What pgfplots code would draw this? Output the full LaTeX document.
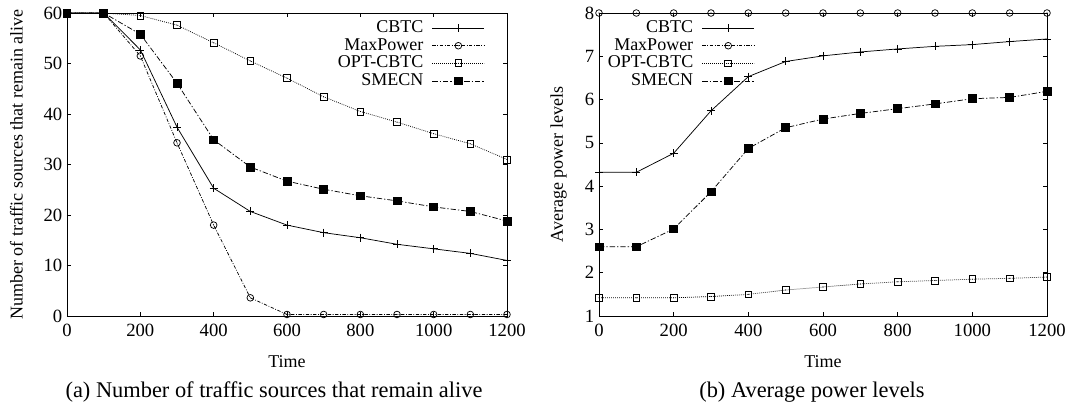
\documentclass[border=0pt]{standalone}
\usepackage{fontspec}
\setmainfont{Liberation Serif}
\usepackage{pgfplots}
\pgfplotsset{compat=1.18}

% gnuplot-like marks: open circle / open square with a dot in the middle
\pgfdeclareplotmark{circdot}{%
  \pgfpathcircle{\pgfpointorigin}{\pgfplotmarksize}\pgfusepathqstroke
  \pgfpathcircle{\pgfpointorigin}{0.4pt}\pgfusepathqfill}
\pgfdeclareplotmark{sqdot}{%
  \pgfpathrectangle{\pgfqpoint{-\pgfplotmarksize}{-\pgfplotmarksize}}{\pgfqpoint{2\pgfplotmarksize}{2\pgfplotmarksize}}\pgfusepathqstroke
  \pgfpathcircle{\pgfpointorigin}{0.4pt}\pgfusepathqfill}

\pgfplotsset{
  gp/.style={
    scale only axis, clip=false,
    xmin=0, xmax=1200, xtick={0,200,...,1200},
    tick align=inside, major tick length=3pt,
    axis line style={line width=0.6pt},
    every tick/.style={black,line width=0.5pt},
    tick label style={font=\fontsize{14}{16}\selectfont},
    xticklabel style={yshift=-2.5pt},
    label style={font=\fontsize{13.5}{16}\selectfont},
    xlabel={Time},
    xlabel style={at={(axis description cs:0.5,-0.151)},anchor=center},
    /pgf/number format/assume math mode=true,
    /pgf/number format/1000 sep={},
    legend cell align=right,
    legend plot pos=right,
    legend style={draw=none, fill=none, font=\fontsize{13.5}{15}\selectfont,
      inner sep=0pt, row sep=0pt, column sep=6pt,
      nodes={inner sep=0.5pt, text height=9.4pt, text depth=2.8pt}},
    legend image code/.code={\draw[mark repeat=2,mark phase=2]
      plot coordinates {(0pt,0pt) (19.5pt,0pt) (39pt,0pt)};},
    every axis plot/.append style={line width=0.55pt, black},
  },
  cbtc/.style={solid, mark=+, mark size=3pt, mark options={solid}},
  maxp/.style={dash pattern=on 2.5pt off 1.2pt on 0.6pt off 1.2pt, mark=circdot, mark size=2.5pt, mark options={solid}},
  optc/.style={dash pattern=on 0.6pt off 0.9pt, mark=sqdot, mark size=2.6pt, mark options={solid}},
  smecn/.style={dash pattern=on 4pt off 1.5pt on 1pt off 1.5pt, mark=square*, mark size=2.9pt, mark options={solid}},
}

\begin{document}
\begin{tikzpicture}
\useasboundingbox (0,0) rectangle (801pt,305.25pt);

% (a) traffic sources alive
\begin{axis}[gp,
  at={(50.25pt,68.25pt)}, anchor=south west,
  width=330pt, height=227.25pt,
  ymin=0, ymax=60, ytick={0,10,...,60},
  ylabel={Number of traffic sources that remain alive},
  ylabel style={at={(axis description cs:-0.115,0.5)},anchor=center},
  legend style={at={(0.95,0.98)},anchor=north east},
]
\addplot[cbtc] coordinates {(0,60)(100,60)(200,52.7)(300,37.4)(400,25.3)(500,20.7)(600,18.0)(700,16.5)(800,15.5)(900,14.2)(1000,13.3)(1100,12.4)(1200,11.0)};
\addlegendentry{CBTC}
\addplot[maxp] coordinates {(0,60)(100,60)(200,51.5)(300,34.3)(400,18.0)(500,3.6)(600,0.3)(700,0.3)(800,0.3)(900,0.3)(1000,0.3)(1100,0.3)(1200,0.3)};
\addlegendentry{MaxPower}
\addplot[optc] coordinates {(0,60)(100,60)(200,59.5)(300,57.6)(400,54.1)(500,50.5)(600,47.1)(700,43.4)(800,40.5)(900,38.4)(1000,36.1)(1100,34.1)(1200,31.0)};
\addlegendentry{OPT-CBTC}
\addplot[smecn] coordinates {(0,60)(100,60)(200,55.8)(300,46.1)(400,34.9)(500,29.5)(600,26.7)(700,25.1)(800,23.8)(900,22.8)(1000,21.6)(1100,20.7)(1200,18.8)};
\addlegendentry{SMECN}
\end{axis}

% (b) average power levels
\begin{axis}[gp,
  at={(449.25pt,68.25pt)}, anchor=south west,
  width=336pt, height=227.25pt,
  ymin=1, ymax=8, ytick={1,...,8},
  ylabel={Average power levels},
  ylabel style={at={(axis description cs:-0.09,0.5)},anchor=center},
  legend style={at={(0.348,0.98)},anchor=north east},
]
\addplot[cbtc] coordinates {(0,4.32)(100,4.32)(200,4.76)(300,5.74)(400,6.53)(500,6.88)(600,7.01)(700,7.10)(800,7.17)(900,7.23)(1000,7.27)(1100,7.34)(1200,7.40)};
\addlegendentry{CBTC}
\addplot[maxp] coordinates {(0,8)(100,8)(200,8)(300,8)(400,8)(500,8)(600,8)(700,8)(800,8)(900,8)(1000,8)(1100,8)(1200,8)};
\addlegendentry{MaxPower}
\addplot[optc] coordinates {(0,1.42)(100,1.42)(200,1.42)(300,1.45)(400,1.50)(500,1.60)(600,1.67)(700,1.74)(800,1.79)(900,1.82)(1000,1.85)(1100,1.87)(1200,1.90)};
\addlegendentry{OPT-CBTC}
\addplot[smecn] coordinates {(0,2.60)(100,2.60)(200,3.01)(300,3.87)(400,4.87)(500,5.35)(600,5.55)(700,5.68)(800,5.79)(900,5.90)(1000,6.02)(1100,6.05)(1200,6.19)};
\addlegendentry{SMECN}
\end{axis}

\node[font=\fontsize{16.8}{19}\selectfont] at (205.5pt,11.5pt) {(a) Number of traffic sources that remain alive};
\node[font=\fontsize{16.8}{19}\selectfont] at (609pt,11.5pt) {(b) Average power levels};
\end{tikzpicture}
\end{document}
